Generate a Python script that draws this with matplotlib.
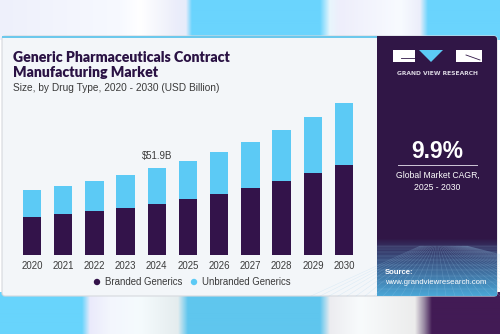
import numpy as np
import matplotlib
matplotlib.use("Agg")
import matplotlib.pyplot as plt
from matplotlib.patches import Rectangle, FancyBboxPatch, Polygon, Circle
from matplotlib.colors import to_rgb

# ---- data -------------------------------------------------------------
years = ["2020", "2021", "2022", "2023", "2024", "2025",
         "2026", "2027", "2028", "2029", "2030"]
branded = [22.9, 24.6, 26.2, 28.1, 30.5, 33.5, 36.5, 39.9, 44.3, 48.9, 53.9]
unbranded = [16.0, 16.9, 18.1, 19.6, 21.4, 22.8, 25.4, 27.6, 30.5, 33.6, 36.9]
callout_year = "2024"
callout_text = "$51.9B"
cagr_text = "9.9%"

BRANDED_C = "#33134a"
UNBRANDED_C = "#5ccaf5"
PANEL_C = "#301646"
TITLE_C = "#2a1244"
TEXT_C = "#3a3a3a"
CARD_C = "#f3f6f9"

W, H = 500, 334
fig = plt.figure(figsize=(W / 100, H / 100), dpi=100)

# full-figure pixel canvas for the decorative frame
bg = fig.add_axes([0, 0, 1, 1])
bg.set_xlim(0, W)
bg.set_ylim(H, 0)
bg.axis("off")


def strip(stops, y0, y1):
    xs = np.arange(W) + 0.5
    pos = [s[0] for s in stops]
    cols = np.array([to_rgb(s[1]) for s in stops])
    img = np.stack([np.interp(xs, pos, cols[:, k]) for k in range(3)], axis=-1)
    bg.imshow(img[None, :, :], extent=[0, W, y1, y0], aspect="auto",
              interpolation="bilinear", zorder=0)


strip([(0, "#eef0fb"), (120, "#f7f9ff"), (140, "#ffffff"), (175, "#eceefa"),
       (186, "#e6ecfb"), (192, "#6ad4fd"), (320, "#6ad4fd"), (330, "#e8f6fd"),
       (340, "#eeeefb"), (400, "#f8fbff"), (420, "#eceefa"), (428, "#6ad4fd"),
       (500, "#6ad4fd")], 0, 40)
strip([(0, "#68d4fc"), (82, "#68d4fc"), (90, "#eaeafb"), (110, "#f3f6fd"),
       (140, "#f5fbfd"), (178, "#e4ecee"), (188, "#5fc6ee"), (320, "#5fc6ee"),
       (330, "#ececf0"), (360, "#f8fbfc"), (415, "#ececec"), (424, "#9a8aa4"),
       (432, "#421b55"), (500, "#421b55")], 292, H)

# card with blue top rule and dark side panel
bg.add_patch(FancyBboxPatch((2, 36), 495, 260, boxstyle="round,pad=0,rounding_size=3",
                            fc=CARD_C, ec="#d6d9de", lw=0.8, zorder=1))
bg.add_patch(Rectangle((2, 35.5), 376, 2.6, fc="#6cc8ec", ec="none", zorder=2))
bg.add_patch(FancyBboxPatch((377, 36), 120, 260, boxstyle="round,pad=0,rounding_size=3",
                            fc=PANEL_C, ec="none", zorder=2))
bg.add_patch(Rectangle((377, 36), 6, 260, fc=PANEL_C, ec="none", zorder=2))

# panel bottom: blue perspective grid
gy0, gy1 = 238, 296
grad = np.linspace(0, 1, 60)[:, None]
c0 = np.array(to_rgb(PANEL_C))
c1 = np.array(to_rgb("#4aa6d6"))
gimg = c0 + (c1 - c0) * (grad[..., None] ** 0.9)
gimg = np.repeat(gimg, 2, axis=1)
bg.imshow(gimg, extent=[377, 497, gy1, gy0], aspect="auto", zorder=3,
          interpolation="bilinear")
for k in range(-14, 26):
    bg.plot([437 + k * 1.2, 437 + k * 9.0], [gy0 + 8, gy1], color="#9fd0f0",
            lw=0.35, alpha=0.3, zorder=4)
for t in np.linspace(0, 1, 12) ** 1.6:
    yy = gy0 + 8 + t * (gy1 - gy0 - 8)
    bg.plot([377, 497], [yy, yy], color="#9fd0f0", lw=0.35, alpha=0.3, zorder=4)

# logo
bg.add_patch(Rectangle((393, 50), 22, 12, fc="white", ec="none", zorder=5))
bg.plot([401, 415], [58, 58], color=PANEL_C, lw=0.6, zorder=6)
bg.add_patch(Polygon([(419, 50), (443, 50), (431, 62)], fc="#5ccaf5", ec="none", zorder=5))
bg.add_patch(Rectangle((456, 50), 26, 12, fc="white", ec="none", zorder=5))
bg.plot([466, 480], [55, 60], color=PANEL_C, lw=0.6, zorder=6)
bg.text(437.5, 73.5, "GRAND VIEW RESEARCH", color="#d9d4e0", fontsize=4.3,
        fontweight="bold", family="DejaVu Sans", ha="center", va="center", zorder=6)

# CAGR block
bg.text(437.5, 151.5, cagr_text, color="white", fontsize=16.5, fontweight="bold",
        family="Liberation Sans", ha="center", va="center", zorder=6)
bg.plot([398, 477], [165, 165], color="#cfc8d8", lw=0.7, zorder=6)
bg.text(437.5, 175.5, "Global Market CAGR,", color="white", fontsize=6.2,
        family="Liberation Sans", ha="center", va="center", zorder=6)
bg.text(437.5, 187, "2025 - 2030", color="white", fontsize=6.2,
        family="Liberation Sans", ha="center", va="center", zorder=6)
bg.text(385, 272.5, "Source:", color="white", fontsize=5.6, fontweight="bold",
        family="Liberation Sans", ha="left", va="center", zorder=6)
bg.text(385, 283, "www.grandviewresearch.com", color="white", fontsize=5.6,
        family="Liberation Sans", ha="left", va="center", zorder=6)

# titles
bg.text(13, 57, "Generic Pharmaceuticals Contract", color=TITLE_C, fontsize=10.2,
        fontweight="heavy", family="Lato", ha="left", va="center", zorder=6)
bg.text(13, 72.5, "Manufacturing Market", color=TITLE_C, fontsize=10.2,
        fontweight="heavy", family="Lato", ha="left", va="center", zorder=6)
bg.text(13, 88, "Size, by Drug Type, 2020 - 2030 (USD Billion)", color=TEXT_C,
        fontsize=7.25, family="Liberation Sans", ha="left", va="center", zorder=6)

# ---- bar chart -------------------------------------------------------
L, R, TOP, BOT = 16.2, 359.8, 100.0, 255.0
ax = fig.add_axes([L / W, (H - BOT) / H, (R - L) / W, (BOT - TOP) / H])
ax.set_facecolor("none")
x = np.arange(len(years))
ax.bar(x, branded, width=0.59, color=BRANDED_C, zorder=3)
ax.bar(x, unbranded, width=0.59, bottom=branded, color=UNBRANDED_C, zorder=3)
totals = np.array(branded) + np.array(unbranded)
ax.set_xlim(-0.5, len(years) - 0.5)
ax.set_ylim(0, 92.8)
for s in ax.spines.values():
    s.set_visible(False)
ax.set_yticks([])
ax.set_xticks(x)
ax.set_xticklabels(years, fontsize=6.9, family="Liberation Sans", color=TEXT_C)
ax.tick_params(axis="x", length=0, pad=4)

ci = years.index(callout_year)
ax.annotate(callout_text, (x[ci], totals[ci]), xytext=(0, 5), textcoords="offset points",
            ha="center", va="bottom", fontsize=6.9, family="Liberation Sans", color=TEXT_C)

# legend
for cx, col, lab in [(97, BRANDED_C, "Branded Generics"),
                     (194, UNBRANDED_C, "Unbranded Generics")]:
    bg.add_patch(Circle((cx, 282), 3.2, fc=col, ec="none", zorder=6))
    bg.text(cx + 8, 282, lab, color=TEXT_C, fontsize=6.9, family="Liberation Sans",
            ha="left", va="center", zorder=6)

fig.savefig("out.png", dpi=100)
